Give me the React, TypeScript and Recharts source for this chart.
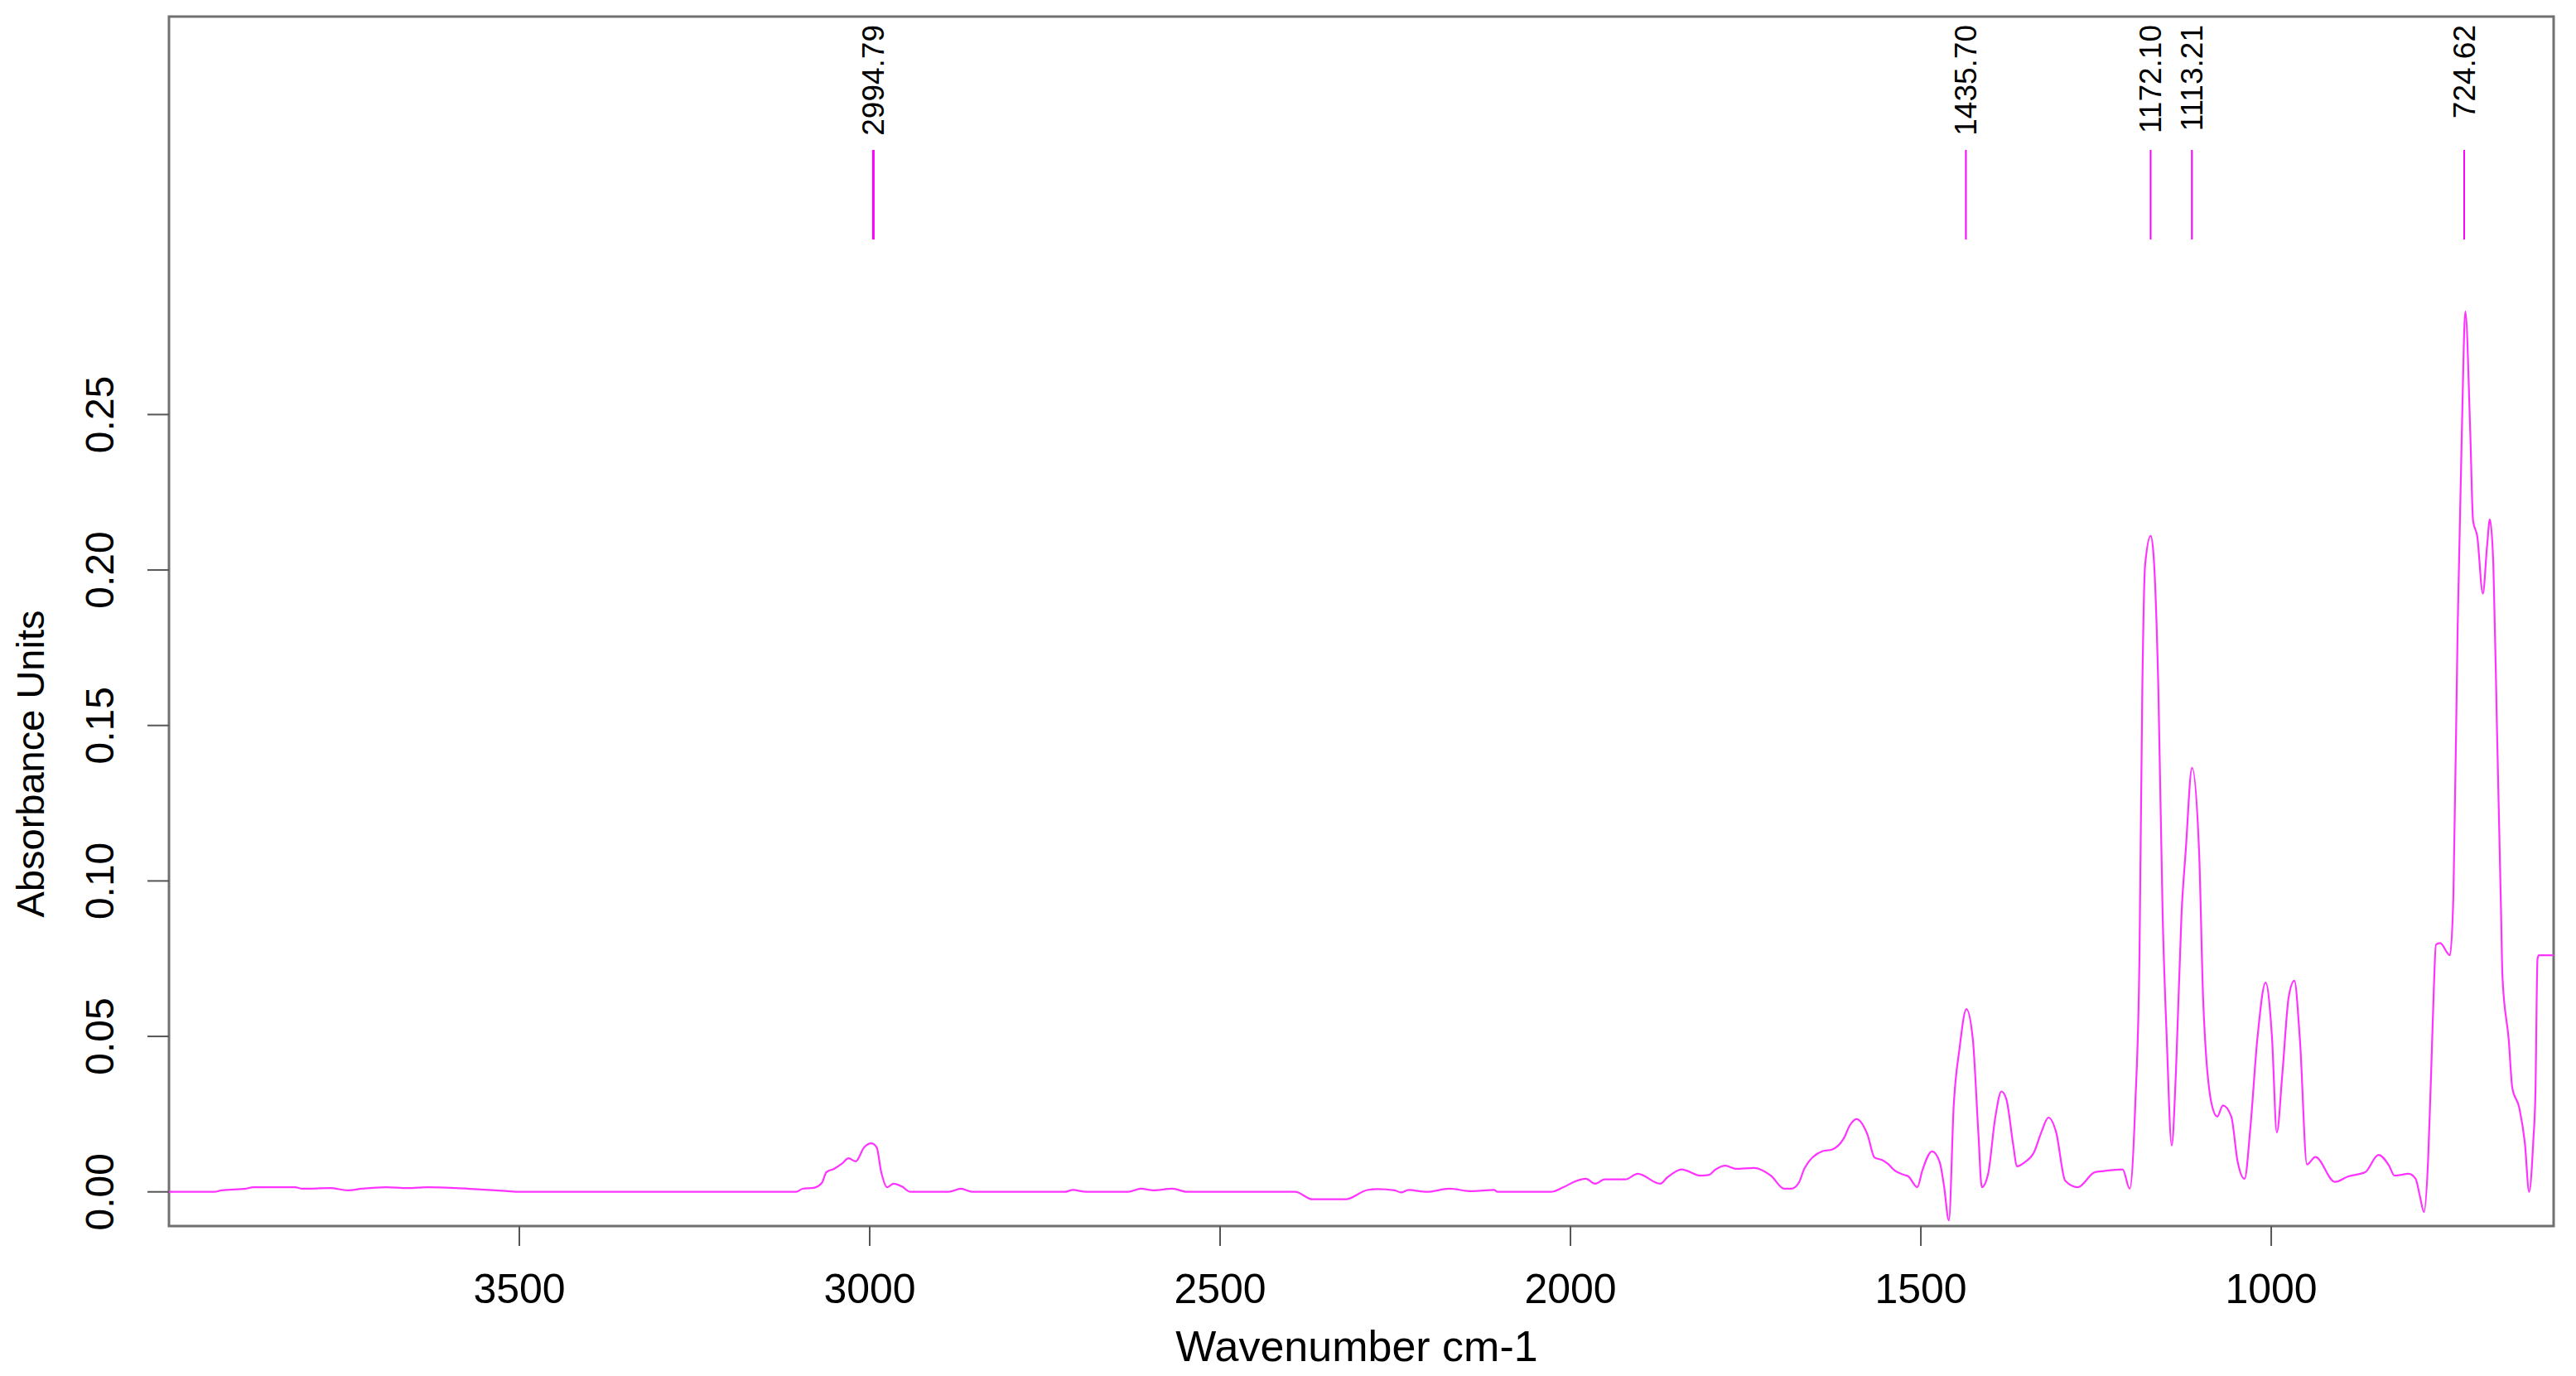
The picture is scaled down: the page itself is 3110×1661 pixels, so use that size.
import { LineChart, Line, XAxis, YAxis, ReferenceArea, ReferenceLine } from 'recharts';

// wavenumber (cm-1), descending, and absorbance
const wavenumbers = [
  4000, 3935, 3925, 3890, 3880, 3820, 3810, 3770, 3745, 3725, 3690, 3660, 3630, 3590, 3560, 3520, 3500,
  3105, 3096, 3080, 3068, 3062, 3051, 3040, 3030, 3020, 3008, 2998, 2990, 2984, 2975, 2966, 2954, 2942,
  2887, 2870, 2854, 2722, 2710, 2691, 2631, 2613, 2595, 2568, 2547, 2393, 2368, 2321, 2290, 2275, 2251,
  2242, 2231, 2205, 2173, 2141, 2109, 2104, 2028, 2010, 1993, 1978, 1965, 1951, 1922, 1904, 1872, 1862,
  1841, 1814, 1803, 1793, 1779, 1764, 1738, 1714, 1695, 1685, 1674, 1666, 1640, 1627, 1610, 1601, 1592,
  1576, 1566, 1556, 1547, 1537, 1523, 1518, 1505, 1498, 1484, 1473, 1467, 1460, 1453, 1445, 1435, 1426,
  1418, 1413, 1404, 1394, 1385, 1378, 1368, 1363, 1352, 1339, 1328, 1318, 1307, 1294, 1276, 1252, 1239,
  1212, 1202, 1194, 1188, 1184, 1180, 1172, 1168, 1161, 1155, 1149, 1142, 1136, 1128, 1122, 1113, 1103,
  1097, 1085, 1077, 1069, 1057, 1048, 1038, 1030, 1020, 1008, 999, 992, 984, 975, 967, 959, 949, 937,
  909, 890, 866, 847, 832, 824, 804, 794, 788, 782, 776, 772, 768, 765, 759, 745, 740, 734, 728, 723,
  716, 712, 706, 698, 692, 688, 683, 678, 672, 670, 661, 656, 646, 638, 632, 626, 623, 620, 618, 597,
];

const absorbance = [
  0, 0, 0.0005, 0.001, 0.0015, 0.0015, 0.001, 0.0012, 0.0005, 0.001, 0.0015, 0.0012, 0.0015, 0.0012, 0.0008, 0.0003, 0,
  0, 0.001, 0.0013, 0.003, 0.0063, 0.0074, 0.009, 0.0108, 0.0098, 0.0143, 0.0156, 0.0143, 0.0068, 0.0015, 0.0026, 0.0017, 0,
  0, 0.001, 0, 0, 0.0006, 0, 0, 0.001, 0.0005, 0.001, 0, 0, -0.0024, -0.0024, 0.0006, 0.0009, 0.0005,
  -0.0002, 0.0006, 0, 0.001, 0.0002, 0.0006, 0, 0, 0.0015, 0.0034, 0.0042, 0.0026, 0.004, 0.004, 0.0058, 0.0026, 0.0046,
  0.0072, 0.0052, 0.0054, 0.0072, 0.0084, 0.0074, 0.0077, 0.0052, 0.001, 0.001, 0.003, 0.0076, 0.0131, 0.0136, 0.0172, 0.0215, 0.0234,
  0.0183, 0.011, 0.0103, 0.009, 0.0068, 0.0054, 0.005, 0.0015, 0.0068, 0.013, 0.0095, 0.002, -0.0092, 0.0282, 0.0458, 0.0588, 0.0495,
  0.0192, 0.0015, 0.0058, 0.0236, 0.0323, 0.0298, 0.0148, 0.0082, 0.0095, 0.0125, 0.0192, 0.0239, 0.0192, 0.0036, 0.0015, 0.0063, 0.0067,
  0.0072, 0.001, 0.0282, 0.0761, 0.161, 0.2016, 0.211, 0.205, 0.161, 0.0895, 0.0487, 0.0149, 0.0384, 0.0895, 0.1098, 0.1364, 0.1098,
  0.061, 0.0282, 0.0242, 0.0278, 0.0242, 0.0098, 0.0042, 0.02, 0.0487, 0.0673, 0.05, 0.0191, 0.0384, 0.0628, 0.0679, 0.0487, 0.0088, 0.0112,
  0.0032, 0.005, 0.0063, 0.0119, 0.0085, 0.0052, 0.0058, 0.0042, -0.0012, -0.0065, 0.011, 0.037, 0.065, 0.0795, 0.08, 0.0761, 0.0956, 0.1812, 0.2444, 0.2832,
  0.2444, 0.2159, 0.2108, 0.1924, 0.2077, 0.2163, 0.2016, 0.1506, 0.0895, 0.069, 0.0487, 0.0335, 0.027, 0.0156, 0, 0.0164, 0.0316, 0.075, 0.0761, 0.0761,
];

const xTicks = [3500, 3000, 2500, 2000, 1500, 1000];
const yTicks = [0, 0.05, 0.1, 0.15, 0.2, 0.25];

const peakPositions = [2994.79, 1435.7, 1172.1, 1113.21, 724.62];
const peakLabels = ['2994.79', '1435.70', '1172.10', '1113.21', '724.62'];
const peakMarkTop = 0.3351;
const peakMarkBottom = 0.3063;

const FONT = '"Liberation Sans", Arial, Helvetica, sans-serif';
const X_MIN = 597;
const X_MAX = 4000;
const Y_MIN = -0.011;
const Y_MAX = 0.378;

const data = wavenumbers.map((w, i) => ({ w, a: absorbance[i] }));

const YTick = ({ x, y, payload }: any) => (
  <text
    x={x}
    y={y}
    transform={`rotate(-90, ${x}, ${y})`}
    textAnchor="middle"
    fontSize={48}
    fontFamily={FONT}
    fill="#000"
  >
    {Number(payload.value).toFixed(2)}
  </text>
);

const peakLabel = (text: string) => (props: any) => {
  const vb = props.viewBox || {};
  const x = (vb.x ?? 0) + 13;
  const y = (vb.y ?? 0) - 151;
  return (
    <text
      x={x}
      y={y}
      transform={`rotate(-90, ${x}, ${y})`}
      textAnchor="end"
      fontSize={37}
      fontFamily={FONT}
      fill="#000"
    >
      {text}
    </text>
  );
};

export default function App() {
  return (
    <div style={{ position: 'absolute', left: 0, top: 0, width: 3110, height: 1661, background: '#fff' }}>
      <LineChart width={3110} height={1661} data={data} margin={{ top: 20, right: 27, bottom: 0, left: 0 }}>
        <XAxis
          dataKey="w"
          type="number"
          domain={[X_MIN, X_MAX]}
          reversed
          allowDataOverflow
          ticks={xTicks}
          height={181}
          axisLine={false}
          tickSize={24}
          tickMargin={33}
          tickLine={{ stroke: '#555', strokeWidth: 2 }}
          tick={{ fontSize: 50, fill: '#000', fontFamily: FONT }}
          label={{
            content: () => (
              <text x={1638} y={1643} textAnchor="middle" fontSize={52} fontFamily={FONT} fill="#000">
                Wavenumber cm-1
              </text>
            ),
          }}
        />
        <YAxis
          type="number"
          domain={[Y_MIN, Y_MAX]}
          allowDataOverflow
          ticks={yTicks}
          width={204}
          axisLine={false}
          tickSize={26}
          tickMargin={41}
          tickLine={{ stroke: '#555', strokeWidth: 2 }}
          tick={<YTick />}
          label={{
            content: () => (
              <text
                x={53}
                y={922}
                transform="rotate(-90, 53, 922)"
                textAnchor="middle"
                fontSize={47}
                fontFamily={FONT}
                fill="#000"
              >
                Absorbance Units
              </text>
            ),
          }}
        />
        <ReferenceArea
          x1={X_MAX}
          x2={X_MIN}
          y1={Y_MIN}
          y2={Y_MAX}
          fill="none"
          stroke="#707070"
          strokeWidth={3}
          ifOverflow="visible"
        />
        {peakPositions.map((p, i) => (
          <ReferenceLine
            key={peakLabels[i]}
            segment={[
              { x: p, y: peakMarkBottom },
              { x: p, y: peakMarkTop },
            ]}
            stroke="#ff00ff"
            strokeWidth={i === 0 ? 3 : 2}
            label={{ content: peakLabel(peakLabels[i]) }}
          />
        ))}
        <Line
          type="monotone"
          dataKey="a"
          stroke="#ff33ff"
          strokeWidth={2.2}
          dot={false}
          isAnimationActive={false}
        />
      </LineChart>
    </div>
  );
}
